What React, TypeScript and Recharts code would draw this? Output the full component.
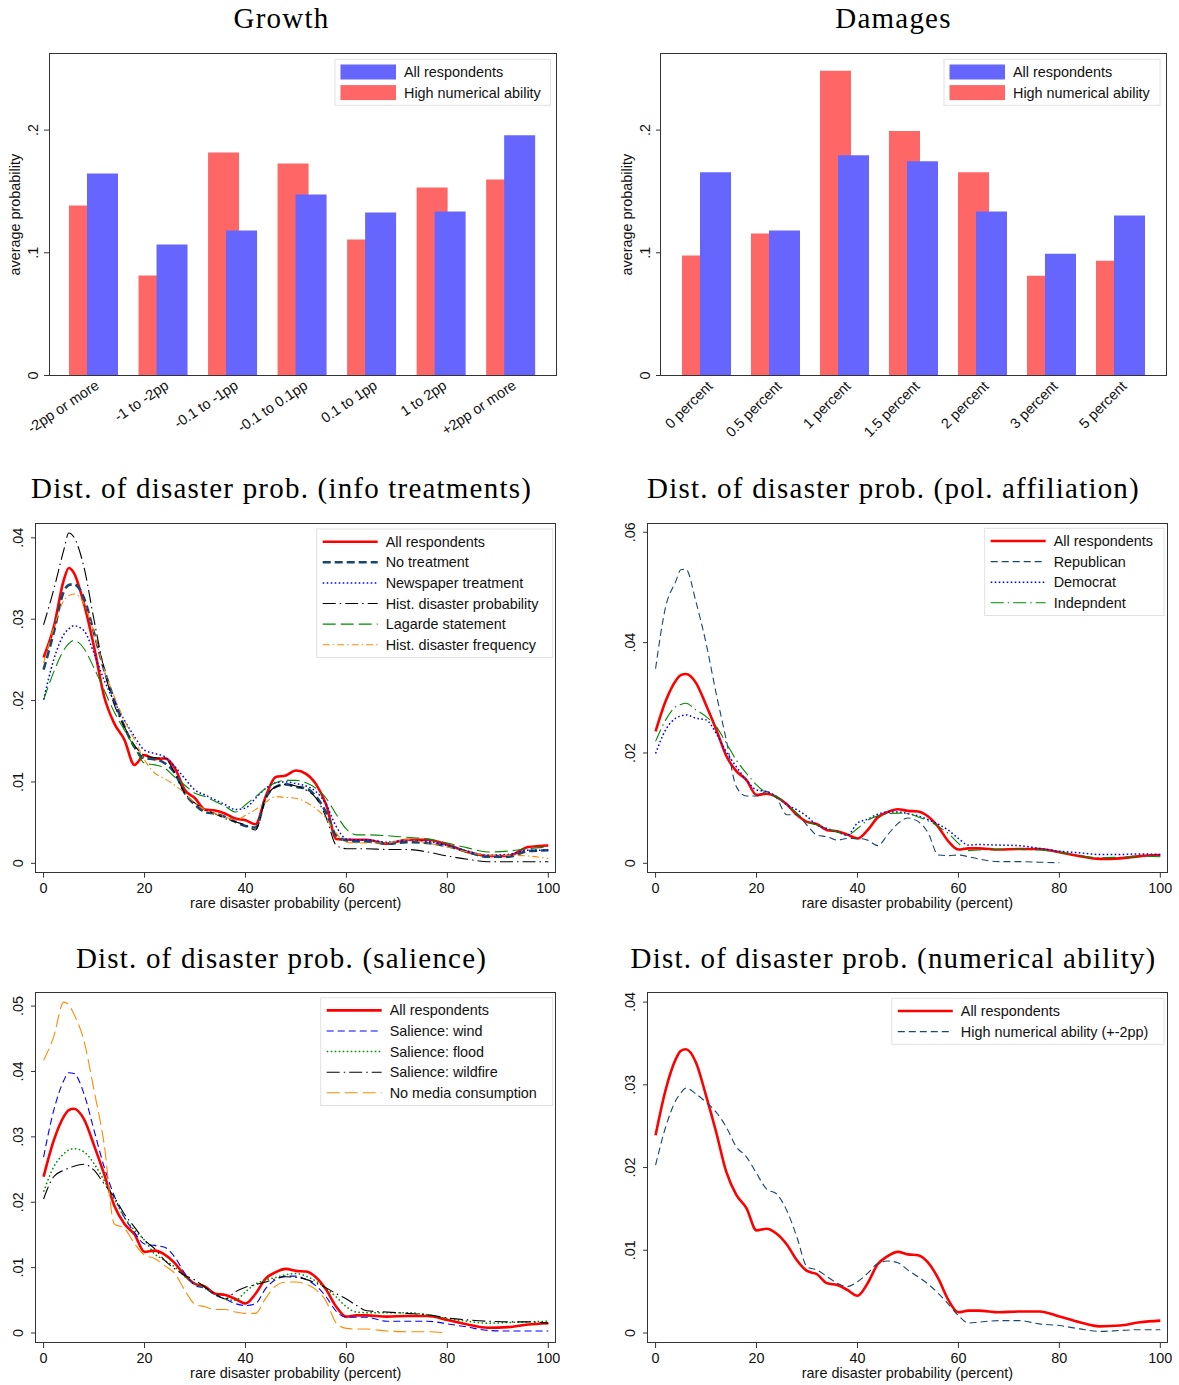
import React from "react";
import { BarChart, Bar, LineChart, Line, XAxis, YAxis } from "recharts";

const SANS = "'Liberation Sans', Arial, Helvetica, sans-serif";
const SERIF = "'Liberation Serif', 'Times New Roman', serif";
const AX = "#333";
const FS = 14.4;

// ---- bar panels ----
const GROWTH_CATS = ["-2pp or more", "-1 to -2pp", "-0.1 to -1pp", "-0.1 to 0.1pp", "0.1 to 1pp", "1 to 2pp", "+2pp or more"];
const GROWTH_ALL = [0.1647, 0.1068, 0.1182, 0.1476, 0.1329, 0.1337, 0.1957];
const GROWTH_HIGH = [0.1386, 0.0815, 0.1818, 0.1728, 0.1109, 0.1533, 0.1598];

const DAMAGE_CATS = ["0 percent", "0.5 percent", "1 percent", "1.5 percent", "2 percent", "3 percent", "5 percent"];
const DAMAGE_ALL = [0.1656, 0.1181, 0.1795, 0.1746, 0.1337, 0.0993, 0.1304];
const DAMAGE_HIGH = [0.0977, 0.1157, 0.2483, 0.1992, 0.1656, 0.0813, 0.0936];

// ---- density panels: x grid (percent) ----
const GRID_X = [0, 2, 4, 5, 6, 8, 10, 12, 14, 16, 18, 20, 22, 24, 26, 28, 30, 32, 34, 36, 38, 40, 42, 44, 46, 48, 50, 52, 54, 56, 58, 60, 62, 64, 68, 72, 76, 80, 84, 88, 92, 96, 100];

// info treatments
const INFO_ALL = [0.0253, 0.0290, 0.0348, 0.0363, 0.0357, 0.0319, 0.0266, 0.0205, 0.0172, 0.0152,
  0.0121, 0.0133, 0.0128, 0.0129, 0.0117, 0.0090, 0.0080, 0.0066, 0.0065, 0.0061,
  0.0055, 0.0053, 0.0048, 0.0082, 0.0106, 0.0108, 0.0114, 0.0110, 0.0097, 0.0072,
  0.0030, 0.0029, 0.0029, 0.0029, 0.0024, 0.0029, 0.0029, 0.0023, 0.0014, 0.0009,
  0.0009, 0.0020, 0.0022];
const INFO_NONE = [0.0238, 0.0283, 0.0334, 0.0342, 0.0343, 0.0326, 0.0283, 0.0238, 0.0201, 0.0168,
  0.0143, 0.0129, 0.0128, 0.0123, 0.0111, 0.0086, 0.0072, 0.0063, 0.0061, 0.0057,
  0.0051, 0.0046, 0.0044, 0.0080, 0.0094, 0.0097, 0.0094, 0.0092, 0.0082, 0.0062,
  0.0034, 0.0028, 0.0027, 0.0027, 0.0024, 0.0026, 0.0025, 0.0021, 0.0014, 0.0008,
  0.0008, 0.0015, 0.0016];
const INFO_NEWS = [0.0201, 0.0250, 0.0281, 0.0288, 0.0292, 0.0286, 0.0258, 0.0225, 0.0199, 0.0176,
  0.0156, 0.0139, 0.0135, 0.0131, 0.0119, 0.0104, 0.0090, 0.0084, 0.0078, 0.0072,
  0.0066, 0.0068, 0.0080, 0.0092, 0.0099, 0.0100, 0.0098, 0.0095, 0.0088, 0.0072,
  0.0045, 0.0030, 0.0029, 0.0029, 0.0026, 0.0028, 0.0027, 0.0022, 0.0015, 0.0010,
  0.0011, 0.0016, 0.0016];
const INFO_HPROB = [0.0293, 0.0336, 0.0385, 0.0406, 0.0401, 0.0364, 0.0299, 0.0238, 0.0195, 0.0168,
  0.0145, 0.0133, 0.0130, 0.0129, 0.0111, 0.0086, 0.0074, 0.0066, 0.0061, 0.0055,
  0.0051, 0.0047, 0.0041, 0.0080, 0.0094, 0.0097, 0.0095, 0.0090, 0.0080, 0.0056,
  0.0022, 0.0018, 0.0018, 0.0018, 0.0017, 0.0017, 0.0014, 0.0009, 0.0005, 0.0002,
  0.0002, 0.0002, 0.0002];
const INFO_LAGARDE = [0.0201, 0.0235, 0.0262, 0.0270, 0.0274, 0.0264, 0.0240, 0.0213, 0.0186, 0.0164,
  0.0143, 0.0123, 0.0121, 0.0117, 0.0106, 0.0096, 0.0086, 0.0082, 0.0076, 0.0070,
  0.0063, 0.0072, 0.0082, 0.0092, 0.0099, 0.0102, 0.0102, 0.0099, 0.0092, 0.0080,
  0.0060, 0.0042, 0.0035, 0.0035, 0.0034, 0.0032, 0.0030, 0.0025, 0.0019, 0.0014,
  0.0015, 0.0018, 0.0020];
const INFO_HFREQ = [0.0246, 0.0289, 0.0323, 0.0329, 0.0331, 0.0319, 0.0283, 0.0238, 0.0205, 0.0176,
  0.0152, 0.0127, 0.0111, 0.0104, 0.0096, 0.0086, 0.0074, 0.0066, 0.0061, 0.0057,
  0.0053, 0.0059, 0.0066, 0.0075, 0.0082, 0.0081, 0.0080, 0.0075, 0.0067, 0.0055,
  0.0037, 0.0026, 0.0025, 0.0025, 0.0025, 0.0029, 0.0025, 0.0020, 0.0014, 0.0010,
  0.0010, 0.0009, 0.0006];

// all respondents (pol. affiliation, salience, numerical ability)
const ALL_RESP = [0.0239, 0.0294, 0.0331, 0.0341, 0.0343, 0.0327, 0.0287, 0.0243, 0.0195, 0.0167,
  0.0151, 0.0124, 0.0126, 0.0120, 0.0107, 0.0088, 0.0075, 0.0071, 0.0060, 0.0058,
  0.0052, 0.0045, 0.0060, 0.0083, 0.0093, 0.0098, 0.0095, 0.0094, 0.0085, 0.0066,
  0.0040, 0.0025, 0.0027, 0.0027, 0.0025, 0.0026, 0.0026, 0.0020, 0.0013, 0.0008,
  0.0009, 0.0013, 0.0015];

// pol. affiliation
const POL_REP = [0.0353, 0.0465, 0.0511, 0.0532, 0.0533, 0.0474, 0.0399, 0.0308, 0.0224, 0.0139,
  0.0122, 0.0122, 0.0130, 0.0118, 0.0088, 0.0088, 0.0069, 0.0051, 0.0048, 0.0042,
  0.0045, 0.0045, 0.0042, 0.0032, 0.0052, 0.0072, 0.0082, 0.0076, 0.0055, 0.0015,
  0.0014, 0.0015, 0.0012, 0.0008, 0.0003, 0.0003, 0.0002, 0.0001, null, null,
  null, null, null];
const POL_DEM = [0.0199, 0.0242, 0.0263, 0.0267, 0.0269, 0.0263, 0.0260, 0.0236, 0.0202, 0.0175,
  0.0151, 0.0133, 0.0130, 0.0121, 0.0106, 0.0097, 0.0085, 0.0069, 0.0063, 0.0057,
  0.0051, 0.0073, 0.0080, 0.0089, 0.0093, 0.0093, 0.0090, 0.0086, 0.0079, 0.0071,
  0.0060, 0.0045, 0.0033, 0.0034, 0.0033, 0.0032, 0.0027, 0.0022, 0.0019, 0.0016,
  0.0016, 0.0017, 0.0016];
const POL_IND = [0.0221, 0.0260, 0.0284, 0.0288, 0.0290, 0.0278, 0.0266, 0.0248, 0.0218, 0.0187,
  0.0163, 0.0142, 0.0127, 0.0121, 0.0106, 0.0091, 0.0076, 0.0069, 0.0063, 0.0057,
  0.0051, 0.0063, 0.0078, 0.0086, 0.0090, 0.0091, 0.0090, 0.0084, 0.0077, 0.0067,
  0.0054, 0.0036, 0.0023, 0.0024, 0.0025, 0.0025, 0.0024, 0.0020, 0.0014, 0.0010,
  0.0011, 0.0013, 0.0012];

// salience
const SAL_WIND = [0.0269, 0.0340, 0.0386, 0.0398, 0.0397, 0.0366, 0.0310, 0.0254, 0.0210, 0.0177,
  0.0154, 0.0136, 0.0134, 0.0131, 0.0116, 0.0091, 0.0073, 0.0068, 0.0058, 0.0052,
  0.0045, 0.0042, 0.0045, 0.0068, 0.0082, 0.0087, 0.0087, 0.0082, 0.0072, 0.0055,
  0.0033, 0.0024, 0.0024, 0.0024, 0.0018, 0.0018, 0.0018, 0.0014, 0.0009, 0.0004,
  0.0003, 0.0003, 0.0003];
const SAL_FLOOD = [0.0216, 0.0254, 0.0274, 0.0280, 0.0282, 0.0277, 0.0259, 0.0233, 0.0205, 0.0177,
  0.0157, 0.0142, 0.0121, 0.0111, 0.0101, 0.0086, 0.0075, 0.0068, 0.0060, 0.0052,
  0.0050, 0.0063, 0.0075, 0.0081, 0.0085, 0.0089, 0.0091, 0.0087, 0.0079, 0.0068,
  0.0055, 0.0040, 0.0032, 0.0031, 0.0031, 0.0031, 0.0028, 0.0022, 0.0018, 0.0015,
  0.0016, 0.0017, 0.0018];
const SAL_FIRE = [0.0205, 0.0239, 0.0249, 0.0252, 0.0255, 0.0258, 0.0249, 0.0228, 0.0208, 0.0182,
  0.0162, 0.0142, 0.0129, 0.0111, 0.0098, 0.0088, 0.0081, 0.0070, 0.0060, 0.0052,
  0.0063, 0.0070, 0.0074, 0.0078, 0.0083, 0.0086, 0.0085, 0.0082, 0.0076, 0.0069,
  0.0060, 0.0052, 0.0042, 0.0034, 0.0032, 0.0030, 0.0028, 0.0023, 0.0020, 0.0018,
  0.0017, 0.0017, 0.0015];
const SAL_NOMEDIA = [0.0417, 0.0453, 0.0506, 0.0502, 0.0488, 0.0447, 0.0371, 0.0289, 0.0167, 0.0160,
  0.0137, 0.0119, 0.0114, 0.0103, 0.0091, 0.0065, 0.0044, 0.0040, 0.0036, 0.0036,
  0.0032, 0.0030, 0.0030, 0.0053, 0.0072, 0.0078, 0.0078, 0.0075, 0.0066, 0.0048,
  0.0015, 0.0007, 0.0006, 0.0006, 0.0003, 0.0002, 0.0002, 0.0000, null, null,
  null, null, null];

// numerical ability
const NUM_HIGH = [0.0203, 0.0249, 0.0281, 0.0290, 0.0296, 0.0289, 0.0279, 0.0267, 0.0249, 0.0225,
  0.0213, 0.0193, 0.0174, 0.0168, 0.0148, 0.0116, 0.0080, 0.0076, 0.0068, 0.0060,
  0.0056, 0.0062, 0.0072, 0.0084, 0.0087, 0.0085, 0.0076, 0.0068, 0.0059, 0.0048,
  0.0035, 0.0021, 0.0012, 0.0013, 0.0015, 0.0015, 0.0011, 0.0009, 0.0005, 0.0002,
  0.0003, 0.0004, 0.0004];

const X_TICKS = [0, 20, 40, 60, 80, 100];
const X_DOMAIN = [-1.5, 101.4];

type S = { name: string; values: (number | null)[]; color: string; width: number; dash?: string };

const RED = "#FF0000";
const NAVY = "#1A476F";
const BLUE = "#0000FF";
const GREEN = "#008B00";
const ORANGE = "#FF8A00";
const BLACK = "#000000";

const DASH = "7 4";
const DOT = "1.6 2.4";
const LONGDASH = "13 5";
const LONGDASH_DOT = "13 4 1.5 4";
const DASH_DOT = "7 3 1.5 3";

const INFO_SERIES: S[] = [
  { name: "All respondents", values: INFO_ALL, color: RED, width: 2.6 },
  { name: "No treatment", values: INFO_NONE, color: NAVY, width: 2.6, dash: "8 4" },
  { name: "Newspaper treatment", values: INFO_NEWS, color: BLUE, width: 1.5, dash: DOT },
  { name: "Hist. disaster probability", values: INFO_HPROB, color: BLACK, width: 1.1, dash: LONGDASH_DOT },
  { name: "Lagarde statement", values: INFO_LAGARDE, color: GREEN, width: 1.1, dash: LONGDASH },
  { name: "Hist. disaster frequency", values: INFO_HFREQ, color: ORANGE, width: 1.1, dash: DASH_DOT },
];
const POL_SERIES: S[] = [
  { name: "All respondents", values: ALL_RESP, color: RED, width: 2.6 },
  { name: "Republican", values: POL_REP, color: NAVY, width: 1.1, dash: DASH },
  { name: "Democrat", values: POL_DEM, color: BLUE, width: 1.5, dash: DOT },
  { name: "Indepndent", values: POL_IND, color: GREEN, width: 1.1, dash: LONGDASH_DOT },
];
const SAL_SERIES: S[] = [
  { name: "All respondents", values: ALL_RESP, color: RED, width: 2.6 },
  { name: "Salience: wind", values: SAL_WIND, color: BLUE, width: 1.1, dash: DASH },
  { name: "Salience: flood", values: SAL_FLOOD, color: GREEN, width: 1.5, dash: DOT },
  { name: "Salience: wildfire", values: SAL_FIRE, color: BLACK, width: 1.1, dash: LONGDASH_DOT },
  { name: "No media consumption", values: SAL_NOMEDIA, color: ORANGE, width: 1.1, dash: LONGDASH },
];
const NUM_SERIES: S[] = [
  { name: "All respondents", values: ALL_RESP, color: RED, width: 2.6 },
  { name: "High numerical ability (+-2pp)", values: NUM_HIGH, color: NAVY, width: 1.1, dash: DASH },
];

const ML = 60;
const MT = 5;
const MR = 5;

const fmt = (v: number) => (v === 0 ? "0" : String(v).replace(/^0/, ""));

function yTick(p: any, bx: number) {
  return (
    <text x={bx} y={p.y} transform={`rotate(-90 ${bx} ${p.y})`} textAnchor="middle"
      fontSize={FS} fontFamily={SANS} fill="#111">
      {fmt(p.payload.value)}
    </text>
  );
}

function Frame({ w, h }: { w: number; h: number }) {
  return (
    <div style={{
      position: "absolute", left: ML - 0.75, top: MT - 0.75, width: w + 1.5, height: h + 1.5,
      border: `1.5px solid ${AX}`, boxSizing: "border-box", pointerEvents: "none",
    }} />
  );
}

function DensityChart({ px, py, pw, ph, yDomain, yTicks, series }: {
  px: number; py: number; pw: number; ph: number; yDomain: number[]; yTicks: number[]; series: S[];
}) {
  const XH = 50;
  const W = pw + ML + MR;
  const H = ph + MT + XH;
  const bottom = MT + ph;
  const data = GRID_X.map((x, i) => {
    const row: Record<string, number | null> = { x };
    series.forEach((s, j) => { row["s" + j] = s.values[i]; });
    return row;
  });
  return (
    <div style={{ position: "absolute", left: px - ML, top: py - MT, width: W, height: H }}>
      <LineChart width={W} height={H} data={data} margin={{ top: MT, right: MR, bottom: 0, left: 0 }}>
        <XAxis dataKey="x" type="number" domain={X_DOMAIN} ticks={X_TICKS} allowDataOverflow
          height={XH} axisLine={false} tickSize={5} tickLine={{ stroke: AX }}
          tick={(p: any) => (
            <text x={p.x} y={bottom + 20} textAnchor="middle" fontSize={FS} fontFamily={SANS} fill="#111">
              {p.payload.value}
            </text>
          )} />
        <YAxis type="number" domain={yDomain} ticks={yTicks} allowDataOverflow width={ML}
          axisLine={false} tickSize={5} tickLine={{ stroke: AX }} tick={(p: any) => yTick(p, ML - 13.3)} />
        {series.map((s, j) => (
          <Line key={s.name} dataKey={"s" + j} type="monotone" stroke={s.color} strokeWidth={s.width}
            strokeDasharray={s.dash} dot={false} activeDot={false} isAnimationActive={false} />
        ))}
      </LineChart>
      <Frame w={pw} h={ph} />
    </div>
  );
}

function BarPanel({ px, py, pw, ph, cats, all, high, angle, pad }: {
  px: number; py: number; pw: number; ph: number; cats: string[]; all: number[]; high: number[]; angle: number; pad: number;
}) {
  const XH = 80;
  const W = pw + ML + MR;
  const H = ph + MT + XH;
  const bottom = MT + ph;
  const data = cats.map((c, i) => ({ cat: c, high: high[i], all: all[i] }));
  return (
    <div style={{ position: "absolute", left: px - ML, top: py - MT, width: W, height: H }}>
      <BarChart width={W} height={H} data={data} barGap={-13} margin={{ top: MT, right: MR, bottom: 0, left: 0 }}>
        <XAxis dataKey="cat" type="category" padding={{ left: pad, right: pad }} height={XH}
          axisLine={false} tickLine={false} interval={0}
          tick={(p: any) => {
            const ax = p.x + 3.5;
            const ay = bottom + 8;
            return (
              <text x={ax} y={ay} dy="0.35em" textAnchor="end" transform={`rotate(${angle} ${ax} ${ay})`}
                fontSize={FS} fontFamily={SANS} fill="#111">
                {p.payload.value}
              </text>
            );
          }} />
        <YAxis type="number" domain={[0, 0.262]} ticks={[0, 0.1, 0.2]} allowDataOverflow width={ML}
          axisLine={false} tickSize={5} tickLine={{ stroke: AX }} tick={(p: any) => yTick(p, ML - 11.3)} />
        <Bar dataKey="high" fill="#FF6666" barSize={31} isAnimationActive={false} />
        <Bar dataKey="all" fill="#6666FF" barSize={31} isAnimationActive={false} />
      </BarChart>
      <Frame w={pw} h={ph} />
    </div>
  );
}

type Row = { label: string; color: string; width?: number; dash?: string; swatch?: boolean };

function LegendBox({ x, y, w, rows }: { x: number; y: number; w: number; rows: Row[] }) {
  const h = 25.4 + (rows.length - 1) * 20.6;
  return (
    <g>
      <rect x={x} y={y} width={w} height={h} fill="#fff" stroke="#e2e2e2" strokeWidth={1} />
      {rows.map((r, i) => {
        const cy = y + 12.7 + 20.6 * i;
        return (
          <g key={r.label}>
            {r.swatch ? (
              <rect x={x + 5.5} y={cy - 7.5} width={55.5} height={15} fill={r.color} />
            ) : (
              <line x1={x + 6} x2={x + 61} y1={cy} y2={cy} stroke={r.color} strokeWidth={r.width}
                strokeDasharray={r.dash} />
            )}
            <text x={x + 69} y={cy + 5} fontSize={FS} fontFamily={SANS} fill="#111">{r.label}</text>
          </g>
        );
      })}
    </g>
  );
}

const toRows = (ss: S[]): Row[] => ss.map((s) => ({ label: s.name, color: s.color, width: s.width, dash: s.dash }));
const BAR_ROWS: Row[] = [
  { label: "All respondents", color: "#6666FF", swatch: true },
  { label: "High numerical ability", color: "#FF6666", swatch: true },
];

function Title({ x, y, text }: { x: number; y: number; text: string }) {
  return (
    <text x={x} y={y} textAnchor="middle" fontFamily={SERIF} fontSize={29} letterSpacing={1.2} fill="#000">
      {text}
    </text>
  );
}

function AxisTitle({ x, y, text, rotate }: { x: number; y: number; text: string; rotate?: boolean }) {
  return (
    <text x={x} y={y} textAnchor="middle" fontFamily={SANS} fontSize={FS} fill="#111"
      transform={rotate ? `rotate(-90 ${x} ${y})` : undefined}>
      {text}
    </text>
  );
}

export default function App() {
  const LX = 36;
  const RX = 647.7;
  const PW = 519.4;
  return (
    <div style={{ position: "absolute", left: 0, top: 0, width: 1179, height: 1385, background: "#fff", overflow: "hidden" }}>
      <BarPanel px={49.3} py={54} pw={506.7} ph={321.5} cats={GROWTH_CATS} all={GROWTH_ALL} high={GROWTH_HIGH} angle={-34} pad={10} />
      <BarPanel px={661} py={54} pw={505} ph={321.5} cats={DAMAGE_CATS} all={DAMAGE_ALL} high={DAMAGE_HIGH} angle={-45} pad={11} />
      <DensityChart px={LX} py={524} pw={PW} ph={348.7} yDomain={[-0.00115, 0.0417]} yTicks={[0, 0.01, 0.02, 0.03, 0.04]} series={INFO_SERIES} />
      <DensityChart px={RX} py={524} pw={PW} ph={348.7} yDomain={[-0.0017, 0.0615]} yTicks={[0, 0.02, 0.04, 0.06]} series={POL_SERIES} />
      <DensityChart px={LX} py={992.7} pw={PW} ph={350} yDomain={[-0.00153, 0.052]} yTicks={[0, 0.01, 0.02, 0.03, 0.04, 0.05]} series={SAL_SERIES} />
      <DensityChart px={RX} py={992.7} pw={PW} ph={350} yDomain={[-0.00121, 0.0411]} yTicks={[0, 0.01, 0.02, 0.03, 0.04]} series={NUM_SERIES} />
      <svg width={1179} height={1385} style={{ position: "absolute", left: 0, top: 0, pointerEvents: "none" }}>
        <Title x={281.5} y={27.5} text="Growth" />
        <Title x={893.5} y={27.5} text="Damages" />
        <Title x={281.5} y={497.5} text="Dist. of disaster prob. (info treatments)" />
        <Title x={893.5} y={497.5} text="Dist. of disaster prob. (pol. affiliation)" />
        <Title x={281.5} y={967.5} text="Dist. of disaster prob. (salience)" />
        <Title x={893.5} y={967.5} text="Dist. of disaster prob. (numerical ability)" />

        <AxisTitle x={20} y={214.7} text="average probability" rotate />
        <AxisTitle x={632} y={214.7} text="average probability" rotate />
        <AxisTitle x={LX + PW / 2} y={907.7} text="rare disaster probability (percent)" />
        <AxisTitle x={RX + PW / 2} y={907.7} text="rare disaster probability (percent)" />
        <AxisTitle x={LX + PW / 2} y={1377.7} text="rare disaster probability (percent)" />
        <AxisTitle x={RX + PW / 2} y={1377.7} text="rare disaster probability (percent)" />

        <LegendBox x={335} y={59.3} w={215.5} rows={BAR_ROWS} />
        <LegendBox x={944} y={59.3} w={216} rows={BAR_ROWS} />
        <LegendBox x={316.7} y={529} w={236} rows={toRows(INFO_SERIES)} />
        <LegendBox x={984.7} y={528.3} w={179.4} rows={toRows(POL_SERIES)} />
        <LegendBox x={320.7} y={997.7} w={232} rows={toRows(SAL_SERIES)} />
        <LegendBox x={891.8} y={998.3} w={272.3} rows={toRows(NUM_SERIES)} />
      </svg>
    </div>
  );
}
